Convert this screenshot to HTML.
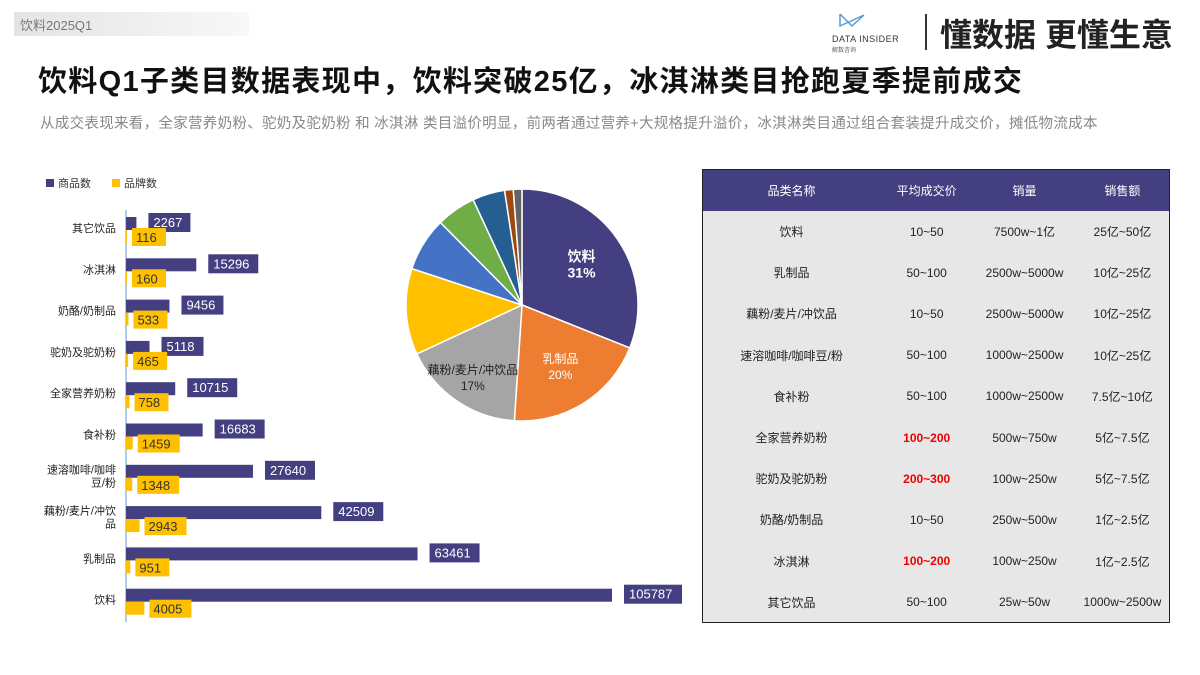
<!DOCTYPE html>
<html><head><meta charset="utf-8">
<style>
body{margin:0;width:1200px;height:675px;background:#fff;position:relative;overflow:hidden;font-family:"Liberation Sans","Noto Sans CJK SC",sans-serif;}
.abs{position:absolute;}
table{border-collapse:collapse;}
</style></head><body>
<div class="abs" style="left:14px;top:12px;width:235px;height:24px;background:linear-gradient(90deg,#e4e4e4,#f8f8f8);"></div>
<div class="abs" style="left:20px;top:15px;font-size:13px;color:#777;">饮料2025Q1</div>
<div class="abs" style="left:832px;top:12px;width:80px;height:38px;">
<svg width="30" height="18" style="position:absolute;left:6px;top:0"><path d="M2 2 L14 14 L26 3 M2 2 L2 14 L26 3" stroke="#5a9bd5" stroke-width="1.5" fill="none"/></svg>
<div style="position:absolute;left:0;top:22px;font-size:9px;color:#334;letter-spacing:0.5px;">DATA INSIDER</div>
<div style="position:absolute;left:0;top:33px;font-size:6px;color:#666;">解数咨询</div></div>
<div class="abs" style="left:925px;top:14px;width:2px;height:36px;background:#333;"></div>
<div class="abs" style="left:940px;top:10px;font-size:32px;font-weight:bold;color:#222;">懂数据 更懂生意</div>
<div class="abs" style="left:38px;top:58px;font-size:29px;letter-spacing:1.3px;font-weight:bold;color:#111;">饮料Q1子类目数据表现中，饮料突破25亿，冰淇淋类目抢跑夏季提前成交</div>
<div class="abs" style="left:40px;top:112px;font-size:14.5px;letter-spacing:0.3px;color:#888;">从成交表现来看，全家营养奶粉、驼奶及驼奶粉 和 冰淇淋 类目溢价明显，前两者通过营养+大规格提升溢价，冰淇淋类目通过组合套装提升成交价，摊低物流成本</div>

<svg class="abs" style="left:0;top:0" width="700" height="675" id="bars">
<g>
<rect x="46" y="179" width="8" height="8" fill="#433f80"/><text x="58" y="187" font-size="11" fill="#333">商品数</text>
<rect x="112" y="179" width="8" height="8" fill="#ffc000"/><text x="124" y="187" font-size="11" fill="#333">品牌数</text></g>
<line x1="126" y1="210" x2="126" y2="622" stroke="#5b9bd5" stroke-width="1"/>
<g id="barg"></g>
</svg>

<svg class="abs" style="left:380px;top:180px" width="280" height="260" id="pie"><g id="pieg"></g></svg>

<div class="abs" style="left:702px;top:169px;width:466px;height:452px;border:1.5px solid #222;background:#e7e7e7;">
<table style="width:100%;font-size:12px;color:#222;text-align:center;">
<tr style="background:#433f80;color:#fff;height:41px;"><td style="width:38%">品类名称</td><td style="width:20%">平均成交价</td><td style="width:22%">销量</td><td>销售额</td></tr>
<tr style="height:41.2px"><td>饮料</td><td>10~50</td><td>7500w~1亿</td><td>25亿~50亿</td></tr>
<tr style="height:41.2px"><td>乳制品</td><td>50~100</td><td>2500w~5000w</td><td>10亿~25亿</td></tr>
<tr style="height:41.2px"><td>藕粉/麦片/冲饮品</td><td>10~50</td><td>2500w~5000w</td><td>10亿~25亿</td></tr>
<tr style="height:41.2px"><td>速溶咖啡/咖啡豆/粉</td><td>50~100</td><td>1000w~2500w</td><td>10亿~25亿</td></tr>
<tr style="height:41.2px"><td>食补粉</td><td>50~100</td><td>1000w~2500w</td><td>7.5亿~10亿</td></tr>
<tr style="height:41.2px"><td>全家营养奶粉</td><td style="color:#e00;font-weight:bold">100~200</td><td>500w~750w</td><td>5亿~7.5亿</td></tr>
<tr style="height:41.2px"><td>驼奶及驼奶粉</td><td style="color:#e00;font-weight:bold">200~300</td><td>100w~250w</td><td>5亿~7.5亿</td></tr>
<tr style="height:41.2px"><td>奶酪/奶制品</td><td>10~50</td><td>250w~500w</td><td>1亿~2.5亿</td></tr>
<tr style="height:41.2px"><td>冰淇淋</td><td style="color:#e00;font-weight:bold">100~200</td><td>100w~250w</td><td>1亿~2.5亿</td></tr>
<tr style="height:41.2px"><td>其它饮品</td><td>50~100</td><td>25w~50w</td><td>1000w~2500w</td></tr>
</table></div>

<script>
const categories=["其它饮品","冰淇淋","奶酪/奶制品","驼奶及驼奶粉","全家营养奶粉","食补粉","速溶咖啡/咖啡豆/粉","藕粉/麦片/冲饮品","乳制品","饮料"];
const productCounts=[2267,15296,9456,5118,10715,16683,27640,42509,63461,105787];
const brandCounts=[116,160,533,465,758,1459,1348,2943,951,4005];
const pieLabels=["饮料","乳制品","藕粉/麦片/冲饮品","其它1","其它2","其它3","其它4","其它5","其它6"];
const pieValues=[31,20,17,12,7.5,5.5,4.5,1.2,1.2];
const pieColors=["#433f80","#ed7d31","#a5a5a5","#ffc000","#4472c4","#70ad47","#255e91","#9e480e","#636363"];

const NS="http://www.w3.org/2000/svg";
function mk(t,a,p){const e=document.createElementNS(NS,t);for(const k in a)e.setAttribute(k,a[k]);p.appendChild(e);return e;}
const x0=126,xs=v=>v*(486/105787);
const rowY=i=>228+i*41.3;
const g=document.getElementById('barg');
categories.forEach((c,i)=>{
  const y=rowY(i);
  const lines=c==="速溶咖啡/咖啡豆/粉"?["速溶咖啡/咖啡","豆/粉"]:c==="藕粉/麦片/冲饮品"?["藕粉/麦片/冲饮","品"]:[c];
  lines.forEach((l,j)=>{const t=mk('text',{x:116,y:y+4+(j-(lines.length-1)/2)*13,'font-size':11,'text-anchor':'end',fill:'#222'},g);t.textContent=l;
  
  });
  const w=xs(productCounts[i]);
  const b=mk('rect',{x:x0,y:y-11,width:w,height:13,fill:'#433f80'},g);
  
  
  const s=String(productCounts[i]);const lw=s.length*8+10;
  const lb=mk('rect',{x:x0+w+12,y:y-15,width:lw,height:19,fill:'#433f80'},g);
  
  
  const lt=mk('text',{x:x0+w+17,y:y-1,'font-size':13,fill:'#fff'},g);lt.textContent=s;
  
  
  const bw=Math.max(xs(brandCounts[i]),1);
  const bb=mk('rect',{x:x0,y:y+2,width:bw,height:13,fill:'#ffc000'},g);
  
  
  const bs=String(brandCounts[i]);const blw=bs.length*8+10;
  const yb=mk('rect',{x:x0+bw+5,y:y,width:blw,height:18,fill:'#ffc000'},g);
  
  
  const yt=mk('text',{x:x0+bw+9,y:y+14,'font-size':13,fill:'#333'},g);yt.textContent=bs;
  
  
});
const pg=document.getElementById('pieg');
const cx=142,cy=125,r=116;const tot=pieValues.reduce((a,b)=>a+b,0);
let a0=-Math.PI/2;
pieValues.forEach((v,i)=>{
  const a1=a0+v/tot*2*Math.PI;
  const p=mk('path',{d:`M${cx},${cy} L${cx+r*Math.cos(a0)},${cy+r*Math.sin(a0)} A${r},${r} 0 ${a1-a0>Math.PI?1:0} 1 ${cx+r*Math.cos(a1)},${cy+r*Math.sin(a1)} Z`,fill:pieColors[i],stroke:'#fff','stroke-width':1.5},pg);
  
  
  if(i<3){const am=(a0+a1)/2,rr=i==2?r*0.75:r*0.62;
    const tx=cx+rr*Math.cos(am),ty=cy+rr*Math.sin(am);
    const col=i==2?'#222':'#fff',fs=i==0?14:12,fw=i==0?'bold':'normal';
    const t1=mk('text',{x:tx,y:ty-3,'font-size':fs,'font-weight':fw,'text-anchor':'middle',fill:col},pg);t1.textContent=pieLabels[i];
    
    
    const t2=mk('text',{x:tx,y:ty+13,'font-size':fs,'font-weight':fw,'text-anchor':'middle',fill:col},pg);t2.textContent=pieValues[i]+'%';
    
    }
  a0=a1;
});
</script>
</body></html>
